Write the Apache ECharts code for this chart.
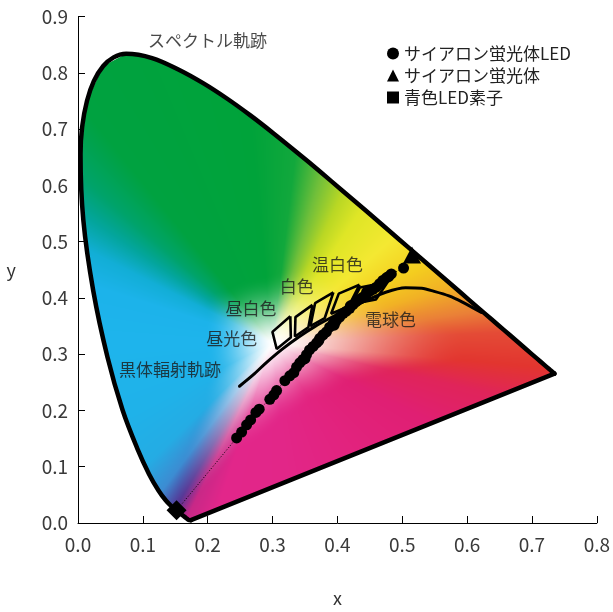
<!DOCTYPE html>
<html>
<head>
<meta charset="utf-8">
<script src="https://cdn.jsdelivr.net/npm/echarts@6/dist/echarts.min.js"></script>
<style>
  html, body { margin: 0; padding: 0; background: #ffffff; }
  #chart { width: 613px; height: 612px; }
</style>
</head>
<body>
<div id="chart"></div>
<script>
// CIE 1931 spectral locus (x, y)
const locusX = [0.1741, 0.1714, 0.1689, 0.1644, 0.1611, 0.1566, 0.1510, 0.1440, 0.1355, 0.1241,
  0.1096, 0.0913, 0.0687, 0.0454, 0.0235, 0.0082, 0.0039, 0.0139, 0.0389, 0.0743,
  0.1142, 0.1547, 0.1929, 0.2296, 0.2658, 0.3016, 0.3373, 0.3731, 0.4087, 0.4441,
  0.4788, 0.5125, 0.5448, 0.5752, 0.6029, 0.6270, 0.6482, 0.6658, 0.6915, 0.7079,
  0.7190, 0.7260, 0.7300, 0.7334, 0.7347];
const locusY = [0.0050, 0.0051, 0.0069, 0.0109, 0.0138, 0.0177, 0.0227, 0.0297, 0.0399, 0.0578,
  0.0868, 0.1327, 0.2007, 0.2950, 0.4127, 0.5384, 0.6548, 0.7502, 0.8120, 0.8338,
  0.8262, 0.8059, 0.7816, 0.7543, 0.7243, 0.6923, 0.6589, 0.6245, 0.5896, 0.5547,
  0.5202, 0.4866, 0.4544, 0.4242, 0.3965, 0.3725, 0.3514, 0.3340, 0.3083, 0.2920,
  0.2809, 0.2740, 0.2700, 0.2666, 0.2653];

// Blackbody (Planckian) locus
const planckX = [0.249, 0.270, 0.290, 0.315, 0.341, 0.365, 0.392, 0.418, 0.444, 0.4745,
  0.505, 0.530, 0.548, 0.572, 0.592, 0.622];
const planckY = [0.243, 0.263, 0.2846, 0.309, 0.331, 0.349, 0.366, 0.381, 0.395, 0.410,
  0.418, 0.417, 0.412, 0.4036, 0.393, 0.374];

// Light-source colour ranges (corner points of each quadrilateral)
const daylightX = [0.3274, 0.3282, 0.3064, 0.2998];      // 昼光色
const daylightY = [0.3673, 0.3297, 0.3091, 0.3396];
const neutralX = [0.3616, 0.3552, 0.3345, 0.3353];       // 昼白色
const neutralY = [0.3875, 0.3476, 0.3314, 0.3659];
const whiteX = [0.3938, 0.3805, 0.3584, 0.3656];         // 白色
const whiteY = [0.4097, 0.3642, 0.3499, 0.3905];
const warmWhiteX = [0.4341, 0.4171, 0.3903, 0.4021];     // 温白色
const warmWhiteY = [0.4233, 0.3846, 0.3719, 0.4076];
const lampX = [0.4775, 0.4594, 0.4214, 0.4348];          // 電球色
const lampY = [0.4283, 0.3971, 0.3887, 0.4185];

// Sialon phosphor LED chromaticity points
const sialonX = [0.2446, 0.2523, 0.2600, 0.2662, 0.2743, 0.2794, 0.2958, 0.3020, 0.3062, 0.3190,
  0.3266, 0.3328, 0.3370, 0.3420, 0.3470, 0.3500, 0.3523, 0.3570, 0.3625, 0.3680,
  0.3710, 0.3728, 0.3780, 0.3831, 0.3880, 0.3932, 0.3950, 0.3980, 0.4035, 0.4090,
  0.4138, 0.4190, 0.4200, 0.4240, 0.4290, 0.4343, 0.4390, 0.4446, 0.4450, 0.4500,
  0.4548, 0.4600, 0.4651, 0.4700, 0.4754, 0.4790, 0.4831, 0.5020];
const sialonY = [0.1511, 0.1616, 0.1744, 0.1831, 0.1964, 0.2023, 0.2197, 0.2277, 0.2354, 0.2528,
  0.2615, 0.2672, 0.2770, 0.2846, 0.2905, 0.2920, 0.2990, 0.3075, 0.3137, 0.3200,
  0.3235, 0.3282, 0.3345, 0.3398, 0.3480, 0.3543, 0.3515, 0.3590, 0.3659, 0.3725,
  0.3764, 0.3815, 0.3860, 0.3880, 0.3935, 0.3978, 0.4010, 0.4065, 0.4100, 0.4120,
  0.4152, 0.4190, 0.4251, 0.4310, 0.4356, 0.4380, 0.4425, 0.4530];

// Sialon phosphor alone, and the blue LED chip
const phosphorX = [0.515];
const phosphorY = [0.476];
const blueLedX = [0.152];
const blueLedY = [0.0225];

// Axis ticks
const xTicks = { min: 0, max: 0.8, step: 0.1 };
const yTicks = { min: 0, max: 0.9, step: 0.1 };

// Annotation texts and their anchor positions
const noteText = ['スペクトル軌跡', '黒体輻射軌跡', '昼光色', '昼白色', '白色', '温白色', '電球色'];
const noteX = [0.1998, 0.1417, 0.2371, 0.2666, 0.3374, 0.4002, 0.4817];
const noteY = [0.8565, 0.2728, 0.3273, 0.3813, 0.4208, 0.4596, 0.3607];

const zip = (xs, ys) => xs.map((x, i) => [x, ys[i]]);
const closed = (xs, ys) => { const p = zip(xs, ys); p.push(p[0]); return p; };

const FONT = '"Noto Sans CJK JP", "Noto Sans", sans-serif';

// Hue fan around the white point used to paint the chromaticity area:
// [angle in degrees, rgb, distance at which the hue is fully saturated]
const WHITE_PT = [0.30, 0.32];
const fan = [
  [-180, [30, 180, 236], 0.10],
  [-150, [31, 178, 233], 0.11],
  [-132, [36, 172, 228], 0.16],
  [-123, [60, 140, 210], 0.26],
  [-117, [84, 52, 148], 0.34],
  [-113, [200, 40, 135], 0.30],
  [-106, [226, 38, 138], 0.20],
  [-85, [226, 38, 136], 0.14],
  [-60, [226, 35, 127], 0.12],
  [-30, [224, 31, 115], 0.14],
  [-15, [224, 36, 90], 0.20],
  [-6, [226, 53, 47], 0.30],
  [3, [228, 75, 54], 0.30],
  [10, [234, 128, 55], 0.25],
  [20, [241, 177, 37], 0.20],
  [30, [244, 205, 31], 0.18],
  [45, [244, 232, 50], 0.15],
  [60, [223, 230, 38], 0.15],
  [68, [185, 215, 36], 0.15],
  [76, [112, 191, 58], 0.14],
  [84, [18, 168, 60], 0.13],
  [95, [0, 163, 58], 0.12],
  [125, [0, 162, 64], 0.12],
  [135, [0, 163, 106], 0.13],
  [142, [3, 165, 156], 0.13],
  [150, [18, 174, 214], 0.12],
  [160, [28, 179, 234], 0.11],
  [180, [30, 180, 236], 0.10]
];

function fanColor(x, y) {
  const dx = x - WHITE_PT[0], dy = y - WHITE_PT[1];
  const d = Math.sqrt(dx * dx + dy * dy);
  const a = Math.atan2(dy, dx) * 180 / Math.PI;
  let i = 0;
  while (i < fan.length - 2 && a > fan[i + 1][0]) i++;
  const f0 = fan[i], f1 = fan[i + 1];
  const t = Math.min(1, Math.max(0, (a - f0[0]) / (f1[0] - f0[0])));
  const c = [0, 1, 2].map(k => f0[1][k] + (f1[1][k] - f0[1][k]) * t);
  const reach = f0[2] + (f1[2] - f0[2]) * t;
  let s = Math.min(1, d / reach);
  s = s * s * (3 - 2 * s);
  s = Math.pow(s, 0.75);
  return c.map(v => Math.round(255 + (v - 255) * s));
}

let fieldCanvas = null;
function renderField(params, api) {
  const W = api.getWidth(), H = api.getHeight();
  if (!fieldCanvas) {
    const o = api.coord([0, 0]), u = api.coord([1, 1]);
    const sx = u[0] - o[0], sy = u[1] - o[1];
    const pts = zip(locusX, locusY).map(p => api.coord(p));
    const xs = pts.map(p => p[0]), ys = pts.map(p => p[1]);
    const x0 = Math.floor(Math.min(...xs)) - 2, x1 = Math.ceil(Math.max(...xs)) + 2;
    const y0 = Math.floor(Math.min(...ys)) - 2, y1 = Math.ceil(Math.max(...ys)) + 2;
    const cv = document.createElement('canvas');
    cv.width = W; cv.height = H;
    const ctx = cv.getContext('2d');
    const img = ctx.createImageData(W, H);
    for (let py = Math.max(0, y0); py < Math.min(H, y1); py++) {
      for (let px = Math.max(0, x0); px < Math.min(W, x1); px++) {
        const c = fanColor((px + 0.5 - o[0]) / sx, (py + 0.5 - o[1]) / sy);
        const k = (py * W + px) * 4;
        img.data[k] = c[0]; img.data[k + 1] = c[1]; img.data[k + 2] = c[2]; img.data[k + 3] = 255;
      }
    }
    ctx.putImageData(img, 0, 0);
    ctx.globalCompositeOperation = 'destination-in';
    ctx.beginPath();
    pts.forEach((p, i) => i ? ctx.lineTo(p[0], p[1]) : ctx.moveTo(p[0], p[1]));
    ctx.closePath();
    ctx.fill();
    fieldCanvas = cv;
  }
  return { type: 'image', silent: true, style: { image: fieldCanvas, x: 0, y: 0, width: W, height: H } };
}

const boxStyle = { color: '#000', width: 2.6 };
const boxSeries = [[daylightX, daylightY], [neutralX, neutralY], [whiteX, whiteY],
  [warmWhiteX, warmWhiteY], [lampX, lampY]].map(b => ({
  type: 'line', data: closed(b[0], b[1]), symbol: 'none', z: 4,
  lineStyle: boxStyle, silent: true
}));

const locusPts = zip(locusX, locusY);
const purpleLine = [locusPts[locusPts.length - 1], locusPts[0]];
const connector = zip(blueLedX, blueLedY)
  .concat(zip(sialonX, sialonY).sort((a, b) => a[0] - b[0]), zip(phosphorX, phosphorY));

const chart = echarts.init(document.getElementById('chart'), null, { renderer: 'canvas' });
chart.setOption({
  animation: false,
  backgroundColor: '#ffffff',
  grid: { left: 78, right: 15, top: 16.5, bottom: 78.5 },
  xAxis: {
    type: 'value', min: xTicks.min, max: xTicks.max, interval: xTicks.step,
    name: 'x', nameLocation: 'middle', nameGap: 66,
    nameTextStyle: { fontFamily: FONT, fontSize: 18, color: '#333' },
    axisLine: { lineStyle: { color: '#000', width: 1 } },
    axisTick: { inside: true, length: 7, lineStyle: { color: '#000' } },
    axisLabel: { fontFamily: FONT, fontSize: 19, color: '#3a3a3a', margin: 12,
      formatter: v => v.toFixed(1) },
    splitLine: { show: false }
  },
  yAxis: {
    type: 'value', min: yTicks.min, max: yTicks.max, interval: yTicks.step,
    name: 'y', nameLocation: 'middle', nameGap: 62, nameRotate: 0,
    nameTextStyle: { fontFamily: FONT, fontSize: 18, color: '#333' },
    axisLine: { show: true, lineStyle: { color: '#000', width: 1 } },
    axisTick: { show: true, inside: true, length: 7, lineStyle: { color: '#000' } },
    axisLabel: { fontFamily: FONT, fontSize: 19, color: '#3a3a3a', margin: 10,
      formatter: v => v.toFixed(1) },
    splitLine: { show: false }
  },
  legend: {
    orient: 'vertical', left: 382, top: 40, itemWidth: 12, itemHeight: 12, itemGap: 5,
    selectedMode: false,
    textStyle: { fontFamily: FONT, fontSize: 17, color: '#222' },
    data: [
      { name: 'サイアロン蛍光体LED', icon: 'circle' },
      { name: 'サイアロン蛍光体', icon: 'triangle' },
      { name: '青色LED素子', icon: 'rect' }
    ]
  },
  series: [
    {
      type: 'custom', z: 1, silent: true, data: [[0, 0]],
      renderItem: renderField
    },
    {
      type: 'line', z: 3, silent: true, symbol: 'none', smooth: 0.35,
      data: locusPts,
      lineStyle: { color: '#000', width: 4.5, join: 'round', cap: 'round' }
    },
    {
      type: 'line', z: 3, silent: true, symbol: 'none',
      data: purpleLine,
      lineStyle: { color: '#000', width: 4.5, cap: 'round' }
    },
    {
      type: 'line', z: 3, silent: true, symbol: 'none', smooth: 0.3,
      data: zip(planckX, planckY),
      lineStyle: { color: '#000', width: 3, cap: 'round' }
    },
    ...boxSeries,
    {
      type: 'line', z: 4, silent: true, symbol: 'none',
      data: connector,
      lineStyle: { color: '#000', width: 1, type: [1, 2] }
    },
    {
      name: 'サイアロン蛍光体LED', type: 'scatter', z: 5, symbol: 'circle', symbolSize: 11,
      itemStyle: { color: '#000', opacity: 1 }, data: zip(sialonX, sialonY)
    },
    {
      name: 'サイアロン蛍光体', type: 'scatter', z: 6, symbol: 'triangle', symbolSize: [18, 17],
      itemStyle: { color: '#000', opacity: 1 }, data: zip(phosphorX, phosphorY)
    },
    {
      name: '青色LED素子', type: 'scatter', z: 6, symbol: 'diamond', symbolSize: 20,
      itemStyle: { color: '#000', opacity: 1 }, data: zip(blueLedX, blueLedY)
    },
    {
      type: 'scatter', z: 7, silent: true, symbolSize: 1,
      itemStyle: { color: 'rgba(0,0,0,0)' },
      data: noteText.map((t, i) => [noteX[i], noteY[i], t]),
      label: {
        show: true, position: 'inside', formatter: p => p.data[2],
        fontFamily: FONT, fontSize: 17, color: '#1a1a1a'
      }
    }
  ]
});
</script>
</body>
</html>
